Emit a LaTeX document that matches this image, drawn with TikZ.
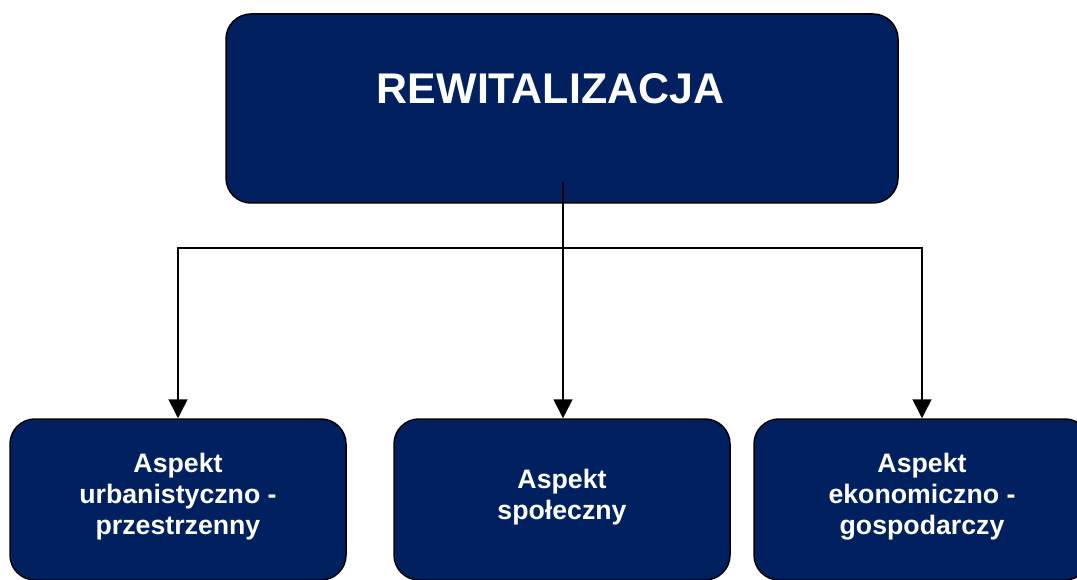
\documentclass[tikz,border=0pt]{standalone}
\usepackage{fontspec}
\setmainfont{Liberation Sans}
\usetikzlibrary{arrows.meta}
\definecolor{navy}{RGB}{0,32,96}

\begin{document}
\begin{tikzpicture}[x=1pt, y=-1pt,
  box/.style = {draw, line width=1.5pt, fill=navy, rounded corners=25pt},
  txt/.style = {text=white, font=\bfseries\fontsize{26.7}{31}\selectfont, align=center},
  link/.style = {line width=1.6pt, -{Triangle[length=19pt,width=19pt]}}]

\useasboundingbox (0,0) rectangle (1077,580);

% top box
\node[box, minimum width=672pt, minimum height=189pt] (R) at (562,108.5) {};
\node[text=white, font=\bfseries\fontsize{42.9}{50}\selectfont, anchor=base] (Rt) at (550.5,103.5) {REWITALIZACJA};

% three aspects
\node[box, minimum width=336pt, minimum height=161pt] (U) at (178,499.5) {};
\node[box, minimum width=336pt, minimum height=161pt] (S) at (562,499.5) {};
\node[box, minimum width=336pt, minimum height=161pt] (E) at (922,499.5) {};
\node[txt] (Ut) at (178,497) {Aspekt\\urbanistyczno -\\przestrzenny};
\node[txt] (St) at (562,497) {Aspekt\\społeczny};
\node[txt] (Et) at (922,497) {Aspekt\\ekonomiczno -\\gospodarczy};

\coordinate (top) at (563,182);
\coordinate (split) at (563,248);

\draw[link] (top) -- (top |- S.north);
\draw[link] (split) -| (U.north);
\draw[link] (split) -| (E.north);

\end{tikzpicture}
\end{document}
